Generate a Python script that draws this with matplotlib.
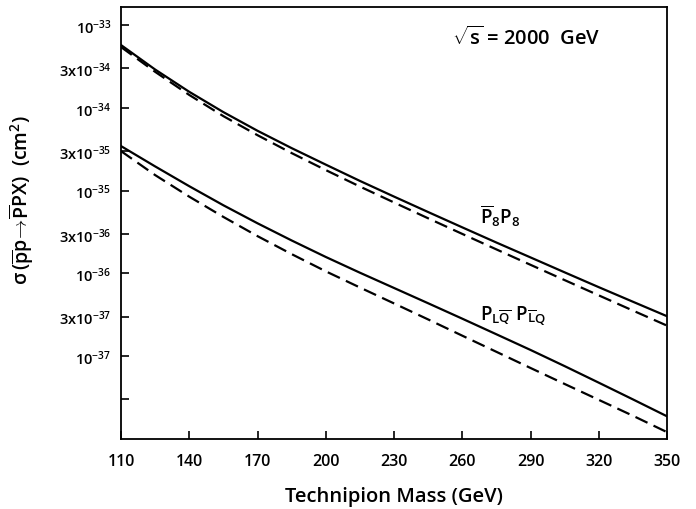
import matplotlib
matplotlib.use("Agg")
import matplotlib.pyplot as plt
from matplotlib.ticker import NullLocator

FAMILY = 'Open Sans'
WEIGHT = 'semibold'

plt.rcParams['font.family'] = [FAMILY, 'DejaVu Sans']
plt.rcParams['font.weight'] = WEIGHT
plt.rcParams['mathtext.fontset'] = 'custom'
plt.rcParams['mathtext.rm'] = f'{FAMILY}:{WEIGHT}'
plt.rcParams['mathtext.it'] = f'{FAMILY}:{WEIGHT}'
plt.rcParams['mathtext.bf'] = f'{FAMILY}:bold'
plt.rcParams['mathtext.default'] = 'rm'

# Technipion mass (GeV)
mass = [110, 125, 140, 155, 170, 185, 200, 215, 230, 245, 260, 275, 290, 305, 320, 335, 350]

# Cross sections (cm^2): P8bar P8 pair production
p8p8_solid = [5.73e-34, 2.90e-34, 1.56e-34, 8.87e-35, 5.28e-35, 3.26e-35, 2.06e-35, 1.31e-35,
              8.47e-36, 5.51e-36, 3.60e-36, 2.36e-36, 1.56e-36, 1.03e-36, 6.82e-37, 4.55e-37,
              3.04e-37]
p8p8_dashed = [5.42e-34, 2.72e-34, 1.43e-34, 7.93e-35, 4.67e-35, 2.84e-35, 1.77e-35, 1.12e-35,
               7.19e-36, 4.63e-36, 3.00e-36, 1.95e-36, 1.27e-36, 8.30e-37, 5.43e-37, 3.56e-37,
               2.34e-37]

# Cross sections (cm^2): leptoquark technipion pair production
plq_solid = [3.45e-35, 1.96e-35, 1.13e-35, 6.65e-36, 4.03e-36, 2.50e-36, 1.58e-36, 1.02e-36,
             6.67e-37, 4.36e-37, 2.84e-37, 1.84e-37, 1.19e-37, 7.59e-38, 4.79e-38, 3.01e-38,
             1.88e-38]
plq_dashed = [3.00e-35, 1.54e-35, 8.45e-36, 4.81e-36, 2.82e-36, 1.71e-36, 1.06e-36, 6.76e-37,
              4.34e-37, 2.78e-37, 1.77e-37, 1.13e-37, 7.21e-38, 4.62e-38, 2.97e-38, 1.91e-38,
              1.21e-38]

x_ticks = [110, 140, 170, 200, 230, 260, 290, 320, 350]
y_ticks = [1e-33, 3e-34, 1e-34, 3e-35, 1e-35, 3e-36, 1e-36, 3e-37, 1e-37, 3e-38]
y_tick_labels = [r'$10^{-33}$', r'$3\mathrm{x}10^{-34}$', r'$10^{-34}$', r'$3\mathrm{x}10^{-35}$',
                 r'$10^{-35}$', r'$3\mathrm{x}10^{-36}$', r'$10^{-36}$', r'$3\mathrm{x}10^{-37}$',
                 r'$10^{-37}$', '']

fig = plt.figure(figsize=(6.96, 5.10), dpi=100)
ax = fig.add_axes([121 / 696, 70 / 510, 546 / 696, 432 / 510])

lw = 1.6
ax.plot(mass, p8p8_solid, color='black', lw=lw)
ax.plot(mass, p8p8_dashed, color='black', lw=lw, dashes=(6, 3))
ax.plot(mass, plq_solid, color='black', lw=lw)
ax.plot(mass, plq_dashed, color='black', lw=lw, dashes=(6, 3))

ax.set_yscale('log')
ax.set_xlim(110, 350)
ax.set_ylim(1.0e-38, 1.65e-33)

ax.set_xticks(x_ticks)
ax.set_xticklabels([str(t) for t in x_ticks], fontsize=11.5, fontweight=WEIGHT)
ax.set_yticks(y_ticks)
ax.set_yticklabels(y_tick_labels, fontsize=10.5)
ax.yaxis.set_minor_locator(NullLocator())
ax.xaxis.set_minor_locator(NullLocator())

ax.tick_params(axis='both', direction='in', length=6, width=1.2, color='black')
ax.tick_params(axis='x', pad=10)
ax.tick_params(axis='y', pad=7)

for side in ['left', 'right', 'top', 'bottom']:
    ax.spines[side].set_linewidth(1.3)
    ax.spines[side].set_color('black')

ax.set_xlabel('Technipion Mass (GeV)', fontsize=14.5, fontweight=WEIGHT, labelpad=12)
ax.set_ylabel(r'$\sigma\,(\overline{p}p\!\rightarrow\!\overline{P}PX)$  (cm$^2$)',
              fontsize=14, fontweight=WEIGHT)
ax.yaxis.set_label_coords(-0.155, 0.555)

ax.text(288, 7.1e-34, r'$\sqrt{s}$ = 2000  GeV', fontsize=14.5, fontweight=WEIGHT,
        ha='center', va='center')
ax.text(276.5, 5.06e-36, r'$\overline{P}_8P_8$', fontsize=13.5, ha='center', va='center')
ax.text(282.5, 3.13e-37, r'$P_{L\overline{Q}}\ P_{\overline{L}Q}$', fontsize=13.5,
        ha='center', va='center')

fig.savefig('out.png', dpi=100, facecolor='white')
